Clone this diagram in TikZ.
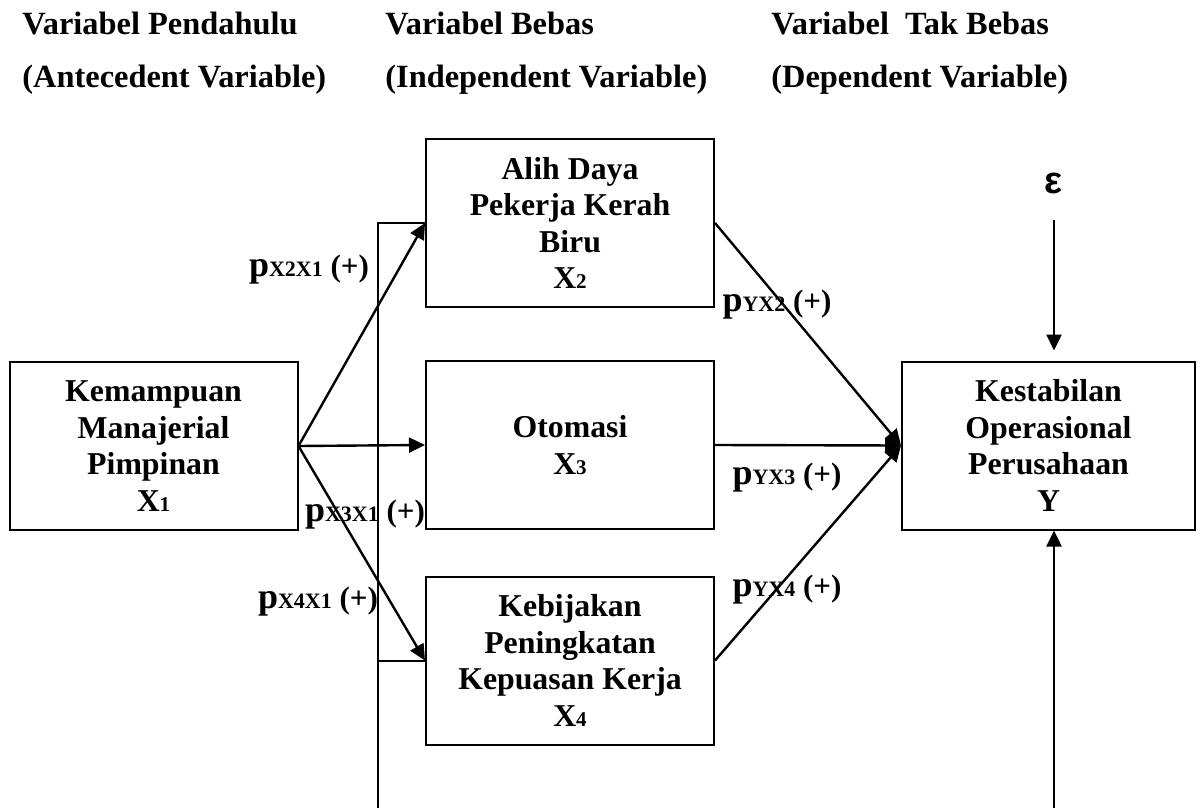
\documentclass[tikz,border=0pt]{standalone}
\usepackage{fontspec}
\setmainfont{Liberation Serif}
\newfontfamily\epsfont{Liberation Sans}
\usepackage{tikz}
\usetikzlibrary{arrows.meta}

\newcommand{\pcoef}[1]{{\fontsize{18}{18}\selectfont p}{\fontsize{11}{11}\selectfont #1}\ (+)}

\begin{document}
\begin{tikzpicture}[x=0.5pt,y=-0.5pt,
    box/.style={draw,line width=1pt,minimum width=144pt,minimum height=84pt,
        align=center,inner sep=2pt,font=\bfseries\fontsize{15.9}{18.3}\selectfont},
    head/.style={anchor=base west,inner sep=0pt,font=\bfseries\fontsize{16.2}{18}\selectfont},
    lbl/.style={inner sep=0pt,font=\bfseries\fontsize{15.5}{16}\selectfont},
    arr/.style={line width=1.2pt,-{Triangle[length=8pt,width=7.5pt]}},
    link/.style={line width=1pt}]
    \useasboundingbox (0,0) rectangle (1198,808);

    \node[head] (h1a) at (22,35) {Variabel Pendahulu};
    \node[head] (h1b) at (22,88) {(Antecedent Variable)};
    \node[head] (h2a) at (385,35) {Variabel Bebas};
    \node[head] (h2b) at (385,88) {(Independent Variable)};
    \node[head] (h3a) at (771,35) {Variabel\ \ Tak Bebas};
    \node[head] (h3b) at (771,88) {(Dependent Variable)};

    \node[box] (x1) at (153.5,446) {Kemampuan\\Manajerial\\Pimpinan\\X{\fontsize{10.5}{10}\selectfont 1}};
    \node[box] (x2) at (570,223) {Alih Daya\\Pekerja Kerah\\Biru\\X{\fontsize{10.5}{10}\selectfont 2}};
    \node[box] (x3) at (570,445) {Otomasi\\X{\fontsize{10.5}{10}\selectfont 3}};
    \node[box] (x4) at (570,660.5) {Kebijakan\\Peningkatan\\Kepuasan Kerja\\X{\fontsize{10.5}{10}\selectfont 4}};
    \node[box,minimum width=146.5pt] (y) at (1048.5,445.5) {Kestabilan\\Operasional\\Perusahaan\\Y};

    \node[inner sep=0pt,font=\epsfont\bfseries\fontsize{19}{19}\selectfont] (eps) at (1054,183) {ε};

    % bracket on the left
    \coordinate (bl) at (378,808);
    \coordinate (br) at (1054,808);
    \draw[link] (x2.west) -| (bl);
    \draw[link] (x4.west) -- (x4.west -| bl);

    \draw[arr] (x1.east) -- (x2.west);
    \draw[arr] (x1.east) -- (x3.west);
    \draw[arr] (x1.east) -- (x4.west);
    \draw[arr] (x2.east) -- (y.west);
    \draw[arr] (x3.east) -- (y.west);
    \draw[arr] (x4.east) -- (y.west);
    \draw[arr,shorten <=13pt,shorten >=5pt] (eps.south) -- (eps.south |- y.north);
    \draw[arr] (br) -- (br |- y.south);

    \node[lbl] (l21) at (309,270) {\pcoef{X2X1}};
    \node[lbl] (l31) at (365,515) {\pcoef{X3X1}};
    \node[lbl] (l41) at (318,602) {\pcoef{X4X1}};
    \node[lbl] (ly2) at (777,305) {\pcoef{YX2}};
    \node[lbl] (ly3) at (787,478) {\pcoef{YX3}};
    \node[lbl] (ly4) at (787,590) {\pcoef{YX4}};
\end{tikzpicture}
\end{document}
